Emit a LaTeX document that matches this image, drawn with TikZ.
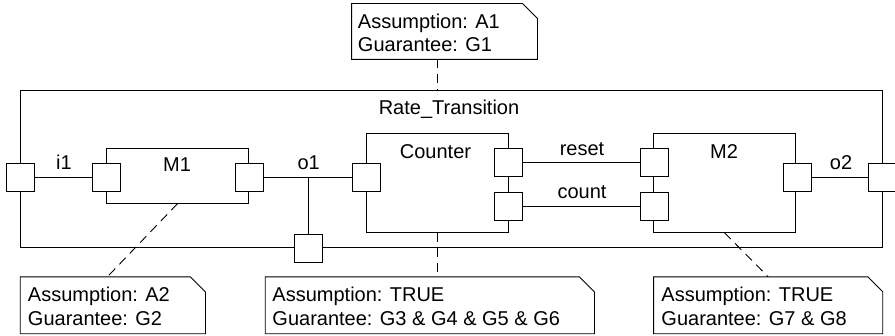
\documentclass[tikz,border=0pt]{standalone}
\usepackage{fontspec}
\setmainfont{Liberation Sans}
\usetikzlibrary{calc}
% note outline with a cut top-right corner
\newcommand\drawnote[1]{%
  \draw (#1.north west) -- ([xshift=-15pt]#1.north east)
        -- ([yshift=-15pt]#1.north east) -- (#1.south east)
        -- (#1.south west) -- cycle;}
\begin{document}
\begin{tikzpicture}[x=1pt,y=-1pt,line width=0.9pt,
  block/.style={draw,inner sep=0pt},
  port/.style={draw,fill=white,minimum size=28pt,inner sep=0pt},
  lbl/.style={anchor=base,inner sep=0pt,font=\fontsize{20}{24}\selectfont},
  notetext/.style={anchor=base west,inner sep=0pt,font=\fontsize{20}{24}\selectfont},
  noteframe/.style={inner sep=0pt},
  link/.style={dash pattern=on 9pt off 6pt}]
\useasboundingbox (0,0) rectangle (895,336);

% composite block and its parts
\node[block,minimum width=862pt,minimum height=157pt] (rt) at (451,168.5) {};
\node[block,minimum width=142pt,minimum height=55pt] (m1) at (177.5,175.7) {};
\node[block,minimum width=142pt,minimum height=99pt] (ctr) at (437,182.8) {};
\node[block,minimum width=142pt,minimum height=99pt] (m2) at (724.5,182.8) {};

\node[lbl] (lrt) at (449,115) {Rate\_Transition};
\node[lbl] (lm1) at (177,172) {M1};
\node[lbl] (lctr) at (435.5,159) {Counter};
\node[lbl] (lm2) at (724,159) {M2};

% ports, drawn over the block outlines
\node[port] (pin) at (20,177) {};
\node[port] (pm1in) at (106.5,177) {};
\node[port] (pm1out) at (249.5,177) {};
\node[port] (pcin) at (366,177) {};
\node[port] (pcreset) at (508,162.5) {};
\node[port] (pccount) at (508,206) {};
\node[port] (pm2reset) at (654,162.5) {};
\node[port] (pm2count) at (654,206) {};
\node[port] (pm2out) at (797,177) {};
\node[port] (pout) at (882,177) {};
\node[port] (pbot) at (308.3,248) {};

% flows between ports
\coordinate (jn) at (pbot |- pm1out);
\draw (pin) -- (pm1in);
\draw (pm1out) -- (pcin);
\draw (jn) -- (pbot);
\draw (pcreset) -- (pm2reset);
\draw (pccount) -- (pm2count);
\draw (pm2out) -- (pout);

\node[lbl] (li1) at (64,170) {i1};
\node[lbl] (lo1) at (308.7,170) {o1};
\node[lbl] (lo2) at (841,169.3) {o2};
\node[lbl] (lreset) at (582,156) {reset};
\node[lbl] (lcount) at (582,199) {count};

% contract notes
\node[noteframe,minimum width=185pt,minimum height=55pt] (na1) at (444.5,31.5) {};
\node[noteframe,minimum width=184.3pt,minimum height=56pt] (na2) at (112.85,305.3) {};
\node[noteframe,minimum width=328.3pt,minimum height=56pt] (nc) at (429.85,305.3) {};
\node[noteframe,minimum width=228.3pt,minimum height=56pt] (nr) at (768.15,305.3) {};
\drawnote{na1}
\drawnote{na2}
\drawnote{nc}
\drawnote{nr}

\node[notetext] (ta1a) at (357.5,29) {Assumption: A1};
\node[notetext] (ta1b) at (357.5,52) {Guarantee: G1};
\node[notetext] (ta2a) at (27.5,302) {Assumption: A2};
\node[notetext] (ta2b) at (27.5,326) {Guarantee: G2};
\node[notetext] (tca) at (272,302) {Assumption: TRUE};
\node[notetext] (tcb) at (272,326) {Guarantee: G3 \& G4 \& G5 \& G6};
\node[notetext] (tra) at (661,302) {Assumption: TRUE};
\node[notetext] (trb) at (661,326) {Guarantee: G7 \& G8};

% note attachments
\draw[link] ([xshift=-7pt]na1.south) -- ([xshift=-7pt]na1.south |- rt.north);
\draw[link] (m1.south) -- ([xshift=-5.5pt]na2.north);
\draw[link] (ctr.south) -- (ctr.south |- nc.north);
\draw[link] (m2.south) -- (nr.north);
\end{tikzpicture}
\end{document}
